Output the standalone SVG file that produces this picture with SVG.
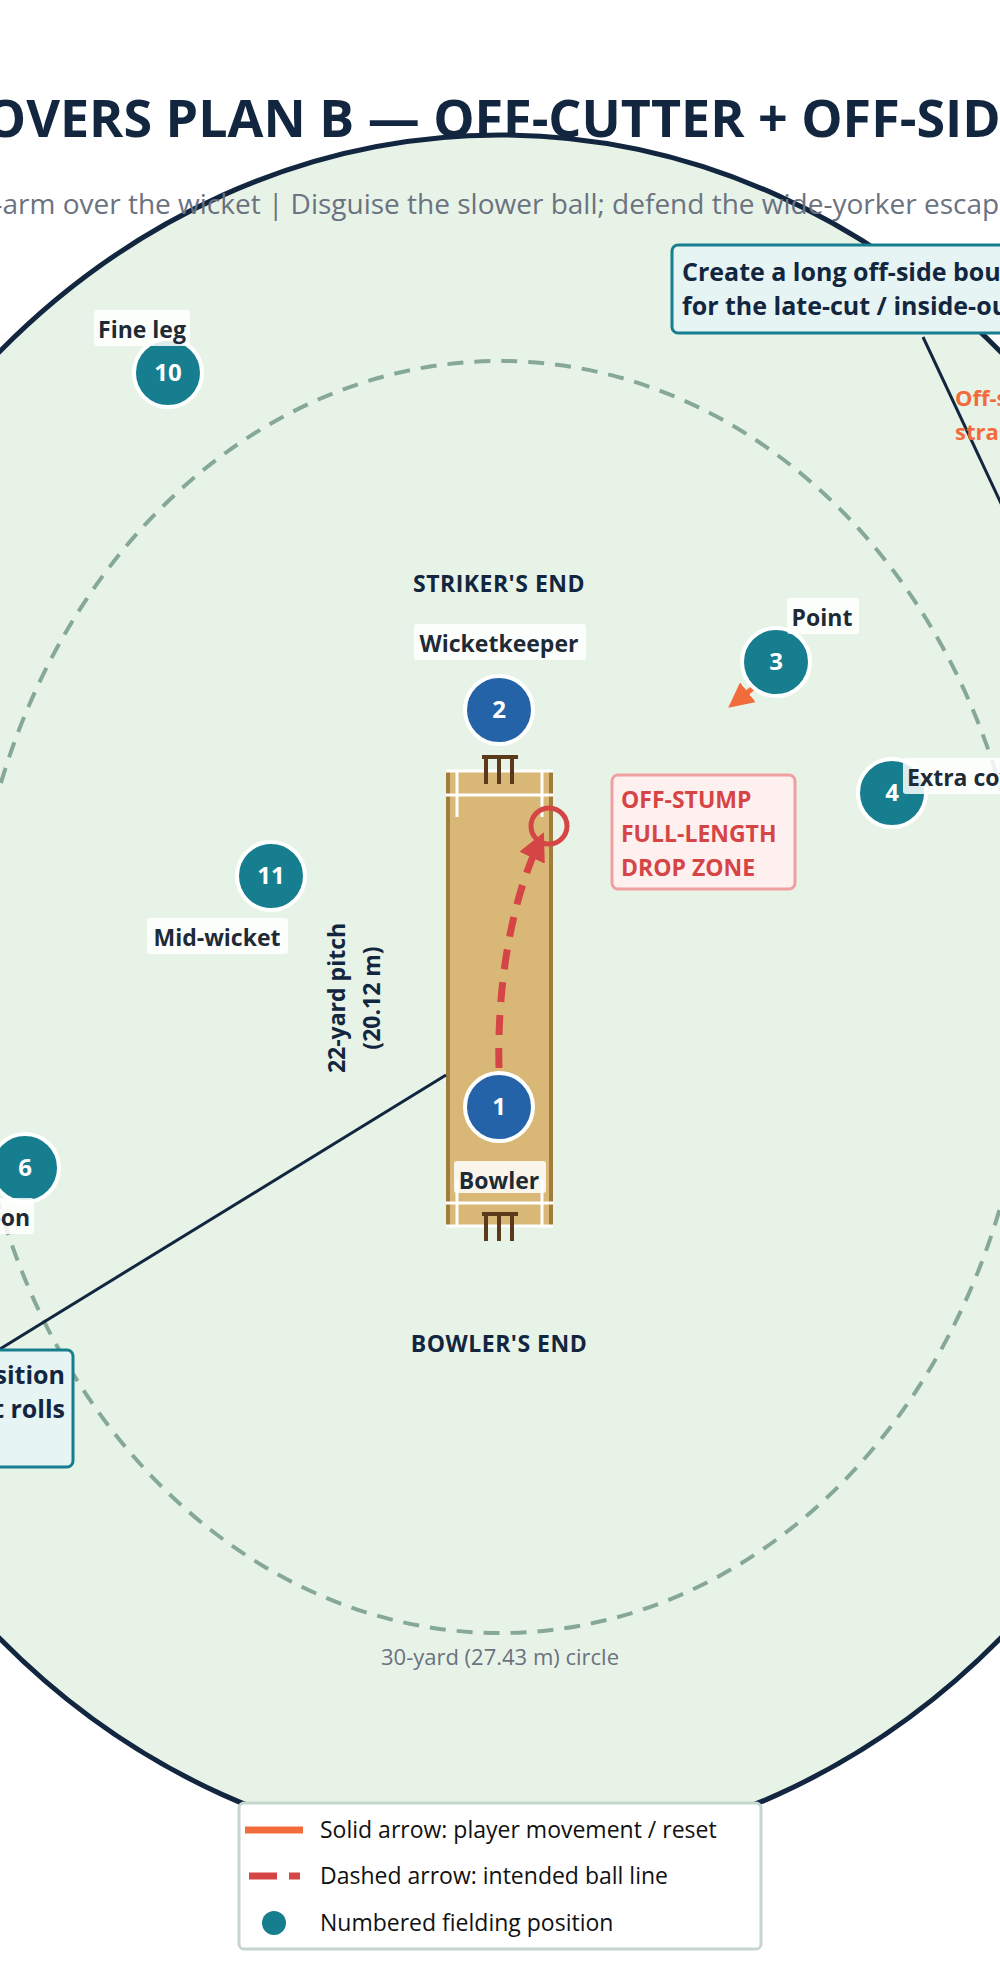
<svg xmlns="http://www.w3.org/2000/svg" width="1000" height="1971" viewBox="0 0 1000 1971">
<style>
text{font-family:"Open Sans","Noto Sans","DejaVu Sans",sans-serif}
.lbl{font-size:23px;font-weight:700;fill:#1e2a36}
.lb{fill:#ffffff;fill-opacity:.85}
.fn{font-size:24px;font-weight:700;fill:#fff;text-anchor:middle}
.teal{fill:#177e8f;stroke:#fff;stroke-width:4}
.blue{fill:#2563a8;stroke:#fff;stroke-width:4}
.end{font-size:23px;font-weight:700;fill:#12263f;text-anchor:middle;letter-spacing:.5px}
.call{fill:#e6f4f3;stroke:#177e8f;stroke-width:3}
.ct{font-size:25px;font-weight:700;fill:#12263f}
.leg{font-size:23px;fill:#111}
</style>
<defs>
<marker id="ar" viewBox="0 0 10 10" refX="5" refY="5" markerWidth="4" markerHeight="4" orient="auto"><path d="M0 0L10 5L0 10z" fill="#d64545"/></marker>
<marker id="ao" viewBox="0 0 10 10" refX="5" refY="5" markerWidth="5" markerHeight="5" orient="auto"><path d="M0 0L10 5L0 10z" fill="#f26b3a"/></marker>
</defs>
<rect width="1000" height="1971" fill="#fff"/>
<text x="492" y="137" text-anchor="middle" font-size="52" font-weight="700" fill="#12263f">DEATH OVERS PLAN B — OFF-CUTTER + OFF-SIDE FIELD</text>
<g id="field">
<ellipse cx="500" cy="995" rx="754" ry="860" fill="#e8f3e8" stroke="#12263f" stroke-width="5"/>
<ellipse cx="500" cy="997" rx="530" ry="636" fill="none" stroke="#86a898" stroke-width="4" stroke-dasharray="16 11"/>
<text x="500" y="1665" text-anchor="middle" font-size="22" fill="#6b7280">30-yard (27.43 m) circle</text>
</g>
<text x="510" y="214" text-anchor="middle" font-size="28" fill="#6b7280">Right-arm over the wicket | Disguise the slower ball; defend the wide-yorker escape route</text>
<g id="pitch">
<rect x="446" y="771" width="107" height="455" fill="#d9b877"/>
<line x1="448" y1="771" x2="448" y2="1226" stroke="#a07d3a" stroke-width="4"/>
<line x1="551" y1="771" x2="551" y2="1226" stroke="#a07d3a" stroke-width="4"/>
<g stroke="#fff" stroke-width="3" fill="none">
<line x1="446" y1="771" x2="553" y2="771"/><line x1="446" y1="795" x2="553" y2="795"/>
<line x1="457" y1="771" x2="457" y2="817"/><line x1="542" y1="771" x2="542" y2="817"/>
<line x1="446" y1="1226" x2="553" y2="1226"/><line x1="446" y1="1203" x2="553" y2="1203"/>
<line x1="457" y1="1180" x2="457" y2="1226"/><line x1="542" y1="1180" x2="542" y2="1226"/>
</g>
<g stroke="#5a3a1a" stroke-width="4" fill="none">
<line x1="482" y1="757" x2="518" y2="757"/><line x1="486" y1="757" x2="486" y2="784"/><line x1="499" y1="757" x2="499" y2="784"/><line x1="512" y1="757" x2="512" y2="784"/>
<line x1="482" y1="1214" x2="518" y2="1214"/><line x1="486" y1="1214" x2="486" y2="1241"/><line x1="499" y1="1214" x2="499" y2="1241"/><line x1="512" y1="1214" x2="512" y2="1241"/>
</g>
<circle cx="549" cy="826" r="18" fill="none" stroke="#d64545" stroke-width="5"/>
</g>
<text class="end" x="499" y="592">STRIKER'S END</text>
<text class="end" x="499" y="1352">BOWLER'S END</text>
<g font-size="23" font-weight="700" fill="#12263f" text-anchor="middle">
<text transform="translate(345 998) rotate(-90)">22-yard pitch</text>
<text transform="translate(380 998) rotate(-90)">(20.12 m)</text>
</g>
<g id="dropzone">
<rect x="612" y="775" width="183" height="114" rx="6" fill="#fff0f0" stroke="#f0a0a0" stroke-width="3"/>
<g font-size="23" font-weight="700" fill="#d64545"><text x="621" y="808">OFF-STUMP</text><text x="621" y="842">FULL-LENGTH</text><text x="621" y="876">DROP ZONE</text></g>
</g>
<g id="connectors" fill="none">
<path d="M499 1068 C497 990 510 905 538 845" stroke="#d64545" stroke-width="7" stroke-dasharray="20 13" marker-end="url(#ar)"/>
<line x1="762" y1="681" x2="738" y2="700" stroke="#f26b3a" stroke-width="5" marker-end="url(#ao)"/>
<line x1="923" y1="337" x2="1005" y2="512" stroke="#12263f" stroke-width="3"/>
<line x1="446" y1="1075" x2="-5" y2="1352" stroke="#12263f" stroke-width="3"/>
</g>
<g id="p1"><circle class="blue" cx="499" cy="1107" r="34"/><text class="fn" x="499" y="1115">1</text>
<rect class="lb" x="454" y="1161" width="92" height="32" rx="3"/><text class="lbl" x="499" y="1189" text-anchor="middle">Bowler</text></g>
<g id="p2"><rect class="lb" x="414" y="624" width="172" height="36" rx="3"/><text class="lbl" x="499" y="652" text-anchor="middle">Wicketkeeper</text>
<circle class="blue" cx="499" cy="710" r="34"/><text class="fn" x="499" y="718">2</text></g>
<g id="p3"><circle class="teal" cx="776" cy="662" r="34"/><text class="fn" x="776" y="670">3</text>
<rect class="lb" x="787" y="598" width="72" height="36" rx="3"/><text class="lbl" x="822" y="626" text-anchor="middle">Point</text></g>
<g id="p4"><circle class="teal" cx="892" cy="793" r="34"/><text class="fn" x="892" y="801">4</text>
<rect class="lb" x="903" y="758" width="130" height="36" rx="3"/><text class="lbl" x="907" y="786">Extra cover</text></g>
<g id="p6"><circle class="teal" cx="25" cy="1168" r="34"/><text class="fn" x="25" y="1176">6</text>
<rect class="lb" x="-70" y="1198" width="104" height="36" rx="3"/><text class="lbl" x="30" y="1226" text-anchor="end">Long-on</text></g>
<g id="p10"><circle class="teal" cx="168" cy="373" r="34"/><text class="fn" x="168" y="381">10</text>
<rect class="lb" x="94" y="310" width="96" height="36" rx="3"/><text class="lbl" x="142" y="338" text-anchor="middle">Fine leg</text></g>
<g id="p11"><circle class="teal" cx="271" cy="876" r="34"/><text class="fn" x="271" y="884">11</text>
<rect class="lb" x="147" y="918" width="141" height="36" rx="3"/><text class="lbl" x="217" y="946" text-anchor="middle">Mid-wicket</text></g>
<g id="callout-top">
<rect class="call" x="672" y="245" width="400" height="88" rx="6"/>
<text class="ct" x="682" y="281">Create a long off-side boundary</text>
<text class="ct" x="682" y="315">for the late-cut / inside-out drive</text>
</g>
<g font-size="22" font-weight="700" fill="#f26b3a"><text x="955" y="406">Off-side</text><text x="955" y="440">straight</text></g>
<g id="callout-bottom">
<rect class="call" x="-300" y="1350" width="373" height="117" rx="6"/>
<text class="ct" x="65" y="1384" text-anchor="end">Deep cover: hold position</text>
<text class="ct" x="65" y="1418" text-anchor="end">as it rolls</text>
</g>
<g id="legend">
<rect x="239" y="1803" width="522" height="146" rx="5" fill="#fff" stroke="#c5d6d0" stroke-width="3"/>
<line x1="245" y1="1830" x2="303" y2="1830" stroke="#f26b3a" stroke-width="7"/>
<line x1="249" y1="1876" x2="300" y2="1876" stroke="#d64545" stroke-width="7" stroke-dasharray="28 12"/>
<circle cx="274" cy="1923" r="12" fill="#177e8f"/>
<text class="leg" x="320" y="1838">Solid arrow: player movement / reset</text>
<text class="leg" x="320" y="1884">Dashed arrow: intended ball line</text>
<text class="leg" x="320" y="1931">Numbered fielding position</text>
</g>
</svg>
